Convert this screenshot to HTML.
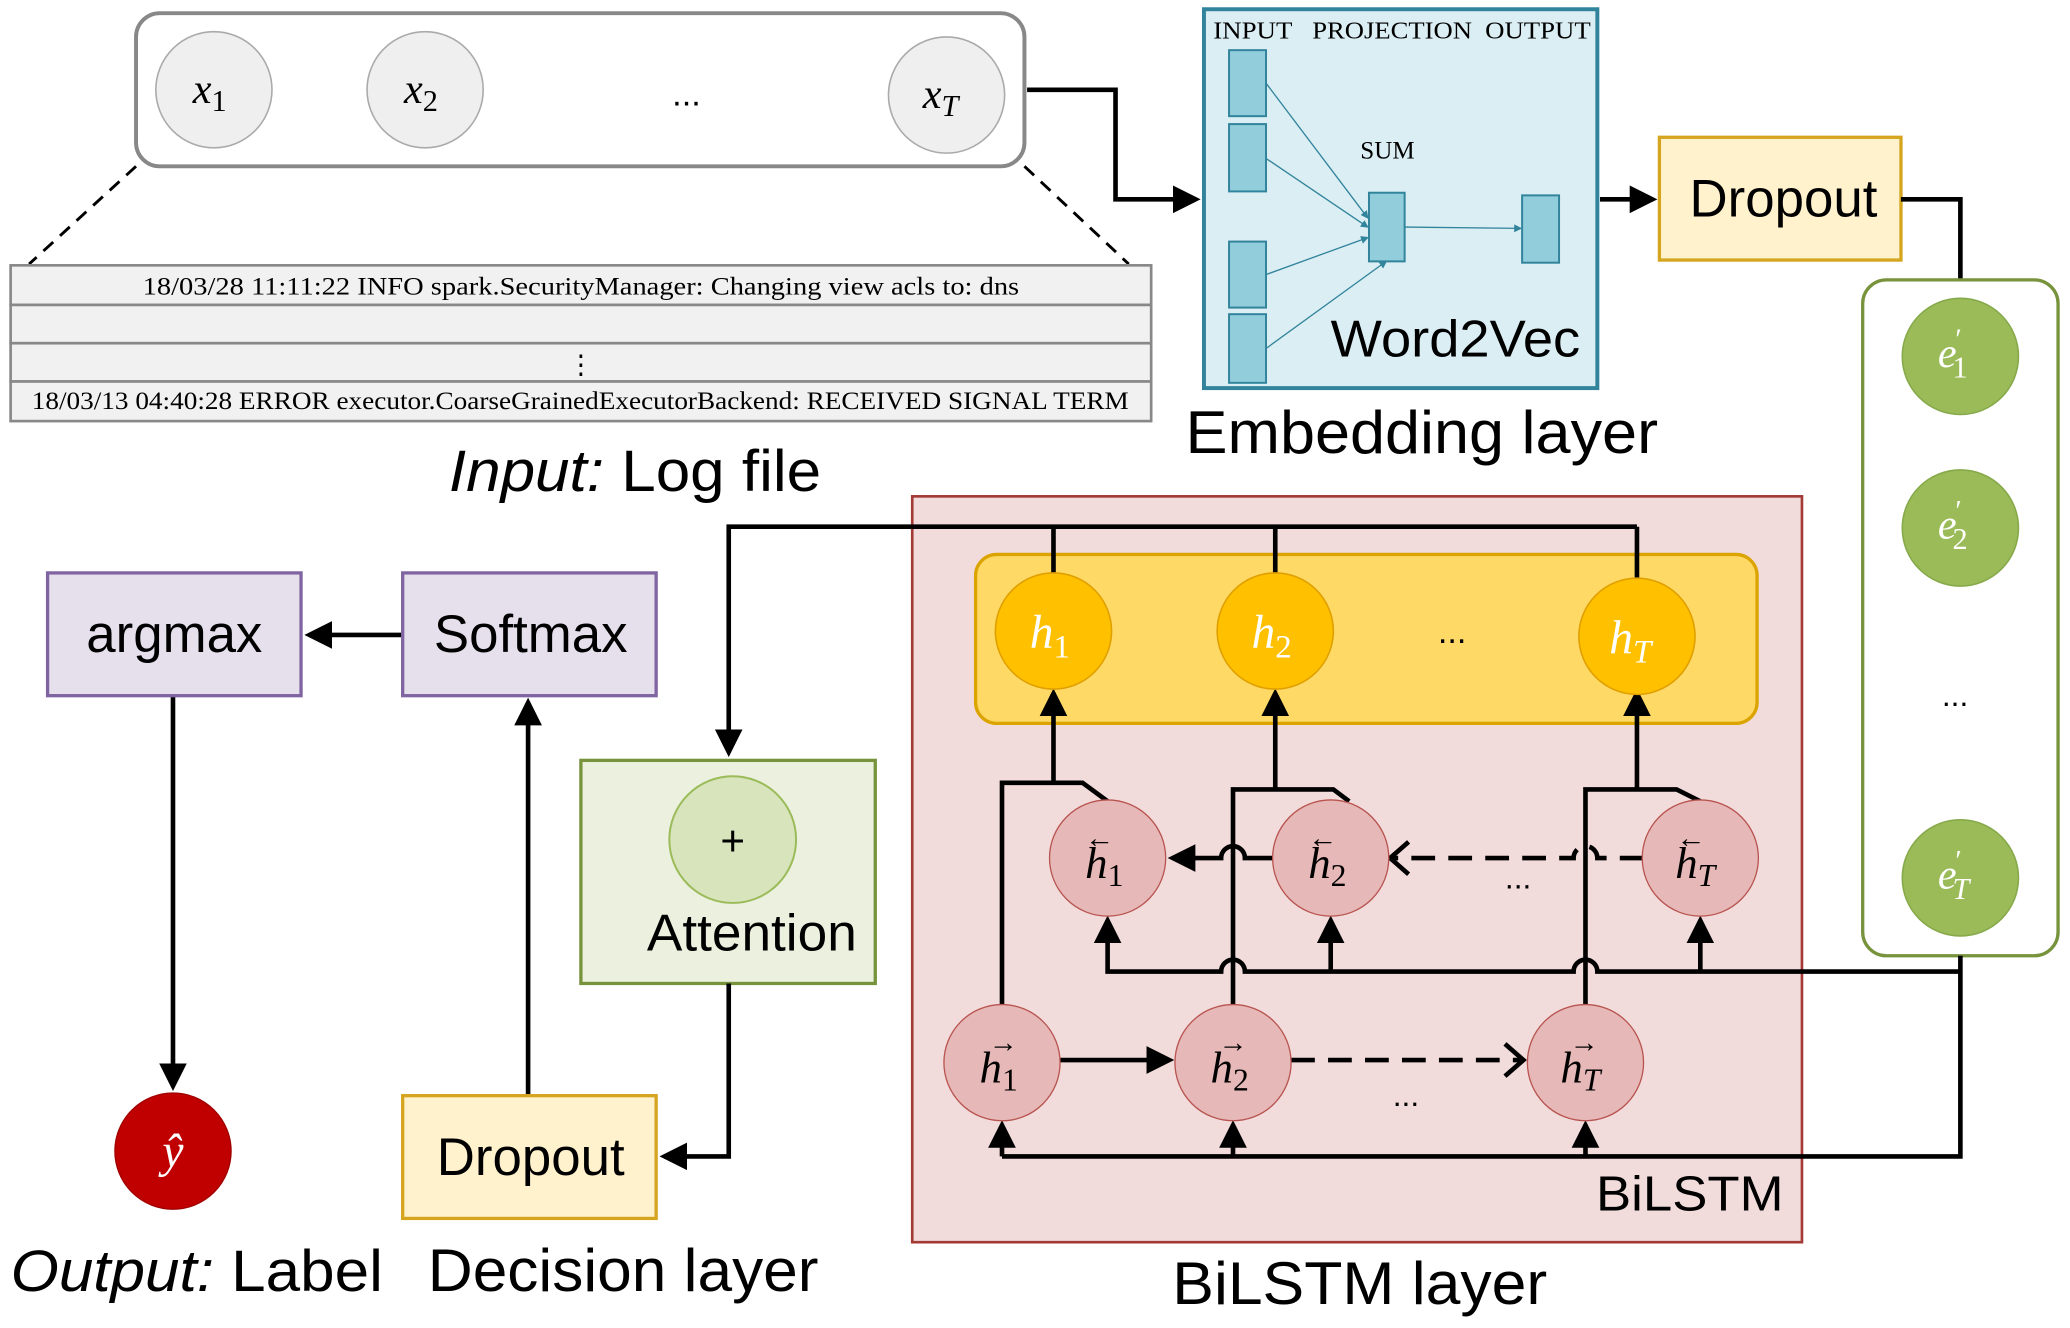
<!DOCTYPE html>
<html><head><meta charset="utf-8"><style>
html,body{margin:0;padding:0;background:#fff;}
svg{display:block;}
.s{font-family:"Liberation Sans",sans-serif;}
.m{font-family:"Liberation Serif",serif;font-style:italic;}
.r{font-family:"Liberation Serif",serif;}
</style></head><body>
<svg width="2070" height="1328" viewBox="0 0 1568 1006" xmlns="http://www.w3.org/2000/svg">
<defs>
<marker id="a" markerWidth="6" markerHeight="6" refX="5" refY="3" orient="auto" markerUnits="strokeWidth"><path d="M0,0 L6,3 L0,6 z" fill="#000"/></marker>
<marker id="o" markerWidth="6" markerHeight="8" refX="5" refY="4" orient="auto" markerUnits="strokeWidth"><path d="M1,0.5 L5,4 L1,7.5" fill="none" stroke="#000" stroke-width="1"/></marker>
<marker id="t" markerWidth="6" markerHeight="6" refX="5" refY="3" orient="auto" markerUnits="strokeWidth"><path d="M0,0 L6,3 L0,6 z" fill="#31849b"/></marker>
</defs>

<rect x="103" y="10" width="673" height="116" rx="18" fill="#fff" stroke="#888" stroke-width="3"/>
<g fill="#efefef" stroke="#aaa" stroke-width="1.2">
<circle cx="162" cy="68" r="44"/><circle cx="322" cy="68" r="44"/><circle cx="717" cy="72" r="44"/></g>
<text class="m" x="146" y="78" font-size="32">x<tspan font-size="23" dy="6" font-style="normal">1</tspan></text>
<text class="m" x="306" y="78" font-size="32">x<tspan font-size="23" dy="6" font-style="normal">2</tspan></text>
<text class="m" x="699" y="82" font-size="32">x<tspan font-size="23" dy="6">T</tspan></text>
<text class="s" x="520" y="80" font-size="26" text-anchor="middle">...</text>
<path d="M103,126 L22,200 M776,126 L855,200" stroke="#000" stroke-width="2.2" stroke-dasharray="10,7" fill="none"/>

<g fill="#f1f1f1" stroke="#888" stroke-width="2">
<rect x="8" y="201" width="864" height="30"/><rect x="8" y="231" width="864" height="29"/><rect x="8" y="260" width="864" height="29"/><rect x="8" y="289" width="864" height="30"/></g>
<text class="r" x="108" y="223" font-size="19" textLength="664" lengthAdjust="spacingAndGlyphs">18/03/28 11:11:22 INFO spark.SecurityManager: Changing view acls to: dns</text>
<text class="r" x="440" y="283" font-size="20" text-anchor="middle">⋮</text>
<text class="r" x="24" y="310" font-size="19" textLength="831" lengthAdjust="spacingAndGlyphs">18/03/13 04:40:28 ERROR executor.CoarseGrainedExecutorBackend: RECEIVED SIGNAL TERM</text>
<text class="s" x="340" y="372" font-size="44" textLength="282" lengthAdjust="spacingAndGlyphs"><tspan font-style="italic">Input:</tspan> Log file</text>

<path d="M778,68 H845 V151 H906" stroke="#000" stroke-width="3.5" fill="none" marker-end="url(#a)"/>

<rect x="912" y="7" width="298" height="287" fill="#daeef3" stroke="#31849b" stroke-width="3"/>
<text class="r" x="919" y="29" font-size="18" textLength="60" lengthAdjust="spacingAndGlyphs">INPUT</text>
<text class="r" x="994" y="29" font-size="18" textLength="121" lengthAdjust="spacingAndGlyphs">PROJECTION</text>
<text class="r" x="1125" y="29" font-size="18" textLength="80" lengthAdjust="spacingAndGlyphs">OUTPUT</text>
<g fill="#92cddc" stroke="#31849b" stroke-width="1.5">
<rect x="931" y="38" width="28" height="50"/><rect x="931" y="94" width="28" height="51"/><rect x="931" y="183" width="28" height="50"/><rect x="931" y="238" width="28" height="52"/>
<rect x="1037" y="146" width="27" height="52"/><rect x="1153" y="148" width="28" height="51"/></g>
<g stroke="#31849b" stroke-width="1" fill="none" marker-end="url(#t)">
<path d="M959,63 L1036,165"/><path d="M959,120 L1036,172"/><path d="M959,208 L1036,180"/><path d="M959,264 L1050,198"/><path d="M1064,172 L1152,173"/></g>
<text class="r" x="1051" y="120" font-size="19" text-anchor="middle">SUM</text>
<text class="s" x="1008" y="270" font-size="39" textLength="189" lengthAdjust="spacingAndGlyphs">Word2Vec</text>
<text class="s" x="898" y="343" font-size="46" textLength="358" lengthAdjust="spacingAndGlyphs">Embedding layer</text>

<path d="M1212,151 H1252" stroke="#000" stroke-width="3.5" marker-end="url(#a)"/>
<rect x="1257" y="104" width="183" height="93" fill="#fff2cc" stroke="#d6a520" stroke-width="2.5"/>
<text class="s" x="1351" y="164" font-size="40" text-anchor="middle">Dropout</text>
<path d="M1440,151 H1485 V212" stroke="#000" stroke-width="3.5" fill="none"/>

<rect x="1411" y="212" width="148" height="512" rx="18" fill="#fff" stroke="#77933c" stroke-width="2.5"/>
<g fill="#9bbb59" stroke="#86a94a" stroke-width="1.2">
<circle cx="1485" cy="270" r="44"/><circle cx="1485" cy="400" r="44"/><circle cx="1485" cy="665" r="44"/></g>
<g fill="#fff" class="m" font-size="32">
<text x="1468" y="278">e<tspan font-size="22" dy="-14" dx="-1" font-style="normal">′</tspan><tspan font-size="23" dy="22" dx="-7" font-style="normal">1</tspan></text>
<text x="1468" y="408">e<tspan font-size="22" dy="-14" dx="-1" font-style="normal">′</tspan><tspan font-size="23" dy="22" dx="-7" font-style="normal">2</tspan></text>
<text x="1468" y="673">e<tspan font-size="22" dy="-14" dx="-1" font-style="normal">′</tspan><tspan font-size="23" dy="22" dx="-7">T</tspan></text></g>
<text class="s" x="1481" y="535" font-size="24" text-anchor="middle">...</text>

<rect x="691" y="376" width="674" height="565" fill="#f2dcdb" stroke="#a33a36" stroke-width="2"/>
<text class="s" x="1209" y="917" font-size="37" textLength="142" lengthAdjust="spacingAndGlyphs">BiLSTM</text>
<text class="s" x="888" y="988" font-size="46" textLength="284" lengthAdjust="spacingAndGlyphs">BiLSTM layer</text>
<rect x="739" y="420" width="592" height="128" rx="16" fill="#ffd966" stroke="#dca400" stroke-width="2.5"/>

<g stroke="#000" stroke-width="3.5" fill="none">
<path d="M798,434 V399 M966,434 V399 M1240,438 V399 M1240,399 H552 V570" marker-end="url(#a)"/>
<path d="M1485,724 V876 H759"/>
<path d="M759,876 V852" marker-end="url(#a)"/><path d="M934,876 V852" marker-end="url(#a)"/><path d="M1201,876 V852" marker-end="url(#a)"/>
<path d="M1485,736 H1210 a9,9 0 0 0 -18,0 H943 a9,9 0 0 0 -18,0 H839 V697" marker-end="url(#a)"/>
<path d="M1008,736 V697" marker-end="url(#a)"/><path d="M1288,736 V697" marker-end="url(#a)"/>
<path d="M759,761 V593 H820 L839,607"/><path d="M798,593 V525" marker-end="url(#a)"/>
<path d="M934,761 V598 H1010 L1022,607"/><path d="M966,598 V525" marker-end="url(#a)"/>
<path d="M1201,761 V598 H1270 L1288,607"/><path d="M1240,598 V525" marker-end="url(#a)"/>
<path d="M803,803 H886" marker-end="url(#a)"/>
<path d="M978,803 H1154" stroke-dasharray="18,10" marker-end="url(#o)"/>
<path d="M966,650 H943 a9,9 0 0 0 -18,0 H888" marker-end="url(#a)"/>
<path d="M1245,650 H1210 a9,9 0 0 0 -18,0 H1053" stroke-dasharray="18,10" marker-end="url(#o)"/>
</g>

<g fill="#ffc000" stroke="#e0a000" stroke-width="1.2">
<circle cx="798" cy="478" r="44"/><circle cx="966" cy="478" r="44"/><circle cx="1240" cy="482" r="44"/></g>
<g fill="#fff" class="m" font-size="36">
<text x="780" y="491">h<tspan font-size="25" dy="7" font-style="normal">1</tspan></text>
<text x="948" y="491">h<tspan font-size="25" dy="7" font-style="normal">2</tspan></text>
<text x="1219" y="495">h<tspan font-size="25" dy="7">T</tspan></text></g>
<text class="s" x="1100" y="487" font-size="26" text-anchor="middle">...</text>

<g fill="#e6b8b7" stroke="#b85450" stroke-width="1">
<circle cx="839" cy="650" r="44"/><circle cx="1008" cy="650" r="44"/><circle cx="1288" cy="650" r="44"/>
<circle cx="759" cy="805" r="44"/><circle cx="934" cy="805" r="44"/><circle cx="1201" cy="805" r="44"/></g>
<g class="m" font-size="34" fill="#000">
<text x="822" y="665">h<tspan font-size="24" dy="6" font-style="normal">1</tspan></text>
<text x="991" y="665">h<tspan font-size="24" dy="6" font-style="normal">2</tspan></text>
<text x="1269" y="665">h<tspan font-size="24" dy="6">T</tspan></text>
<text x="742" y="820">h<tspan font-size="24" dy="6" font-style="normal">1</tspan></text>
<text x="917" y="820">h<tspan font-size="24" dy="6" font-style="normal">2</tspan></text>
<text x="1182" y="820">h<tspan font-size="24" dy="6">T</tspan></text></g>
<g class="r" font-size="22" fill="#000" text-anchor="middle">
<text x="833" y="642">←</text><text x="1002" y="642">←</text><text x="1281" y="642">←</text>
<text x="760" y="797">→</text><text x="934" y="797">→</text><text x="1200" y="797">→</text></g>
<text class="s" x="1150" y="673" font-size="24" text-anchor="middle">...</text>
<text class="s" x="1065" y="838" font-size="24" text-anchor="middle">...</text>

<rect x="440" y="576" width="223" height="169" fill="#ebf1de" stroke="#77933c" stroke-width="2.5"/>
<circle cx="555" cy="636" r="48" fill="#d7e4bc" stroke="#9bbb59" stroke-width="1.5"/>
<text class="s" x="555" y="648" font-size="32" text-anchor="middle">+</text>
<text class="s" x="490" y="720" font-size="39" textLength="159" lengthAdjust="spacingAndGlyphs">Attention</text>

<g stroke="#000" stroke-width="3.5" fill="none">
<path d="M552,745 V876 H503" marker-end="url(#a)"/>
<path d="M400,830 V532" marker-end="url(#a)"/>
<path d="M305,481 H234" marker-end="url(#a)"/>
<path d="M131,527 V823" marker-end="url(#a)"/>
</g>
<rect x="305" y="830" width="192" height="93" fill="#fff2cc" stroke="#d6a520" stroke-width="2.5"/>
<text class="s" x="402" y="890" font-size="40" text-anchor="middle">Dropout</text>
<rect x="305" y="434" width="192" height="93" fill="#e6e0ec" stroke="#8064a2" stroke-width="2.5"/>
<text class="s" x="402" y="494" font-size="40" text-anchor="middle">Softmax</text>
<rect x="36" y="434" width="192" height="93" fill="#e6e0ec" stroke="#8064a2" stroke-width="2.5"/>
<text class="s" x="132" y="494" font-size="40" text-anchor="middle">argmax</text>
<circle cx="131" cy="872" r="44" fill="#c00000" stroke="#a00000" stroke-width="1"/>
<text class="m" x="131" y="884" font-size="36" fill="#fff" text-anchor="middle">ŷ</text>

<text class="s" x="8" y="978" font-size="44" textLength="282" lengthAdjust="spacingAndGlyphs"><tspan font-style="italic">Output:</tspan> Label</text>
<text class="s" x="324" y="978" font-size="46" textLength="296" lengthAdjust="spacingAndGlyphs">Decision layer</text>
</svg>
</body></html>
